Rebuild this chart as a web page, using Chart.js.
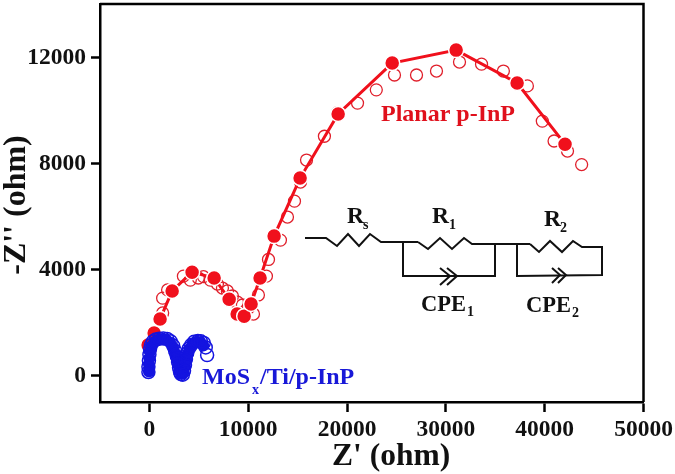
<!DOCTYPE html>
<html>
<head>
<meta charset="utf-8">
<style>
  html, body { margin: 0; padding: 0; background: #fff; overflow: hidden; }
  /* the layout keeps 9px above the plot, the frame starts at 4px in the figure */
  #myChart { display: block; margin-top: -5px; }
</style>
<script src="https://cdn.jsdelivr.net/npm/chart.js@4"></script>
</head>
<body>
<canvas id="myChart" width="675" height="479"></canvas>
<script>
const xTicks = [0, 10000, 20000, 30000, 40000, 50000];
const yTicks = [0, 4000, 8000, 12000];

const planarFitX = [-130, 480, 1080, 2300, 4320, 6550, 8070, 8880, 9590, 10290, 11200, 12620, 15250, 19100, 24570, 31040, 37210, 42060];
const planarFitY = [1150, 1600, 2130, 3190, 3900, 3680, 2880, 2320, 2240, 2700, 3680, 5260, 7450, 9870, 11790, 12280, 11040, 8730];

const planarOpenX = [100, 700, 1340, 1340, 1840, 3440, 4140, 4950, 5470, 6170, 6880, 7390, 7890, 8400, 8910, 9410, 10020, 10530, 11030, 11840, 12050, 13260, 13970, 14680, 15290, 15900, 17710, 19040, 21060, 22960, 24800, 27030, 29050, 31380, 33610, 35820, 38250, 39760, 40950, 42310, 43740];
const planarOpenY = [1030, 1380, 2360, 2920, 3230, 3750, 3600, 3680, 3730, 3600, 3450, 3300, 3190, 3000, 2770, 2660, 2550, 2320, 3040, 3750, 4380, 5110, 5980, 6580, 7300, 8130, 9030, 9920, 10280, 10780, 11340, 11340, 11490, 11830, 11750, 11490, 10930, 9600, 8850, 8470, 7960];

const mosOpenX = [-100, -100, -50, 0, 60, 160, 350, 650, 1000, 1400, 1800, 2150, 2400, 2600, 2780, 2900, 3000, 3100, 3200, 3380, 3500, 3600, 3700, 3820, 4000, 4220, 4520, 4900, 5200, 5500, 5700, 5840];
const mosOpenY = [130, 330, 560, 790, 1000, 1150, 1280, 1360, 1390, 1400, 1380, 1290, 1130, 930, 720, 510, 290, 130, 50, 30, 180, 400, 620, 840, 1020, 1150, 1270, 1300, 1290, 1230, 1060, 770];

const mosFitX = [-50, -30, 0, 60, 200, 500, 900, 1300, 1700, 2100, 2400, 2600, 2780, 2900, 3050, 3250, 3450, 3600, 3720, 3850, 4050, 4350, 4750, 5150, 5450];
const mosFitY = [150, 400, 650, 900, 1100, 1260, 1350, 1380, 1350, 1250, 1050, 830, 600, 400, 180, 60, 130, 350, 580, 800, 1000, 1180, 1270, 1260, 1130];

function toPoints(xs, ys) {
    return xs.map((x, i) => ({ x: x, y: ys[i] }));
}

const serif = '"Liberation Serif", "Times New Roman", serif';

// top and right side of the frame
const frame = {
    id: 'frame',
    beforeDatasetsDraw(chart) {
        const a = chart.chartArea;
        const ctx = chart.ctx;
        ctx.save();
        ctx.strokeStyle = '#000';
        ctx.lineWidth = 2.5;
        ctx.beginPath();
        ctx.moveTo(a.left, a.top);
        ctx.lineTo(a.right, a.top);
        ctx.lineTo(a.right, a.bottom);
        ctx.stroke();
        ctx.restore();
    }
};

// labels and the equivalent circuit, all drawn on top of the plot
const overlay = {
    id: 'overlay',
    afterDraw(chart) {
        const ctx = chart.ctx;
        ctx.save();
        ctx.translate(0, 5); // canvas sits 5px higher, see the css
        ctx.textBaseline = 'alphabetic';
        ctx.textAlign = 'left';

        ctx.fillStyle = '#111';
        ctx.font = 'bold 31.5px ' + serif;
        ctx.fillText("Z' (ohm)", 332, 465);

        ctx.save();
        ctx.translate(25, 205);
        ctx.rotate(-Math.PI / 2);
        ctx.textAlign = 'center';
        ctx.font = 'bold 32px ' + serif;
        ctx.fillText("-Z'' (ohm)", 0, 0);
        ctx.restore();

        ctx.fillStyle = '#e0101c';
        ctx.font = 'bold 24px ' + serif;
        ctx.fillText('Planar p-InP', 381, 121);

        ctx.fillStyle = '#1818d8';
        ctx.font = 'bold 24px ' + serif;
        ctx.fillText('MoS', 202, 384);
        ctx.fillText('/Ti/p-InP', 260, 384);
        ctx.font = 'bold 14px ' + serif;
        ctx.fillText('x', 252, 394);

        ctx.strokeStyle = '#111';
        ctx.lineWidth = 2;
        ctx.lineJoin = 'miter';
        const path = (pts) => {
            ctx.beginPath();
            pts.forEach((p, i) => i ? ctx.lineTo(p[0], p[1]) : ctx.moveTo(p[0], p[1]));
            ctx.stroke();
        };
        // Rs
        path([[305, 238], [326, 238], [337, 246], [348, 234], [359, 246], [370, 234], [381, 242], [418, 242]]);
        // R1
        path([[418, 242], [428, 249], [440, 238], [452, 249], [464, 238], [472, 244], [530, 244]]);
        // R2 and its box
        path([[530, 244], [539, 252], [550, 241], [562, 252], [573, 241], [582, 247], [602, 247], [602, 275], [517, 276], [517, 244]]);
        // CPE1 box
        path([[403, 242], [403, 276], [495, 276], [495, 244]]);
        // CPE arrows
        path([[440, 268], [450, 276], [440, 285]]);
        path([[447, 268], [457, 276], [447, 285]]);
        path([[552, 268], [560, 275], [552, 283]]);
        path([[558, 268], [566, 275], [558, 283]]);

        ctx.fillStyle = '#111';
        ctx.font = 'bold 23.5px ' + serif;
        ctx.fillText('R', 347, 223);
        ctx.fillText('R', 432, 223);
        ctx.fillText('R', 544, 226);
        ctx.font = 'bold 22.5px ' + serif;
        ctx.fillText('CPE', 421, 311);
        ctx.fillText('CPE', 526, 312);
        ctx.font = 'bold 14px ' + serif;
        ctx.fillText('s', 363, 229);
        ctx.fillText('1', 449, 229);
        ctx.fillText('2', 560, 232);
        ctx.fillText('1', 467, 316);
        ctx.fillText('2', 572, 317);
        ctx.restore();
    }
};

const data = {
    datasets: [
        {
            label: 'Planar p-InP fit',
            data: toPoints(planarFitX, planarFitY),
            showLine: true,
            borderColor: '#f0101c',
            backgroundColor: '#f0101c',
            borderWidth: 3,
            pointRadius: 7.5,
            pointBorderColor: '#fff',
            pointBorderWidth: 1.5,
            order: 2
        },
        {
            label: 'Planar p-InP',
            data: toPoints(planarOpenX, planarOpenY),
            showLine: false,
            borderColor: '#e0202c',
            backgroundColor: 'rgba(0,0,0,0)',
            pointRadius: 6,
            pointBorderWidth: 1.3,
            order: 3
        },
        {
            label: 'MoSx fit',
            data: toPoints(mosFitX, mosFitY),
            showLine: true,
            borderColor: '#1414e0',
            backgroundColor: '#1414e0',
            borderWidth: 3,
            pointRadius: 6,
            pointBorderWidth: 0,
            order: 1
        },
        {
            label: 'MoSx',
            data: toPoints(mosOpenX, mosOpenY),
            showLine: false,
            borderColor: '#1414e0',
            backgroundColor: 'rgba(0,0,0,0)',
            pointRadius: 6.5,
            pointBorderWidth: 1.5,
            order: 0
        }
    ]
};

const config = {
    type: 'scatter',
    data: data,
    plugins: [frame, overlay],
    options: {
        responsive: false,
        animation: false,
        layout: { padding: { top: 4, right: 31.5, bottom: 0, left: 0 } },
        plugins: { legend: { display: false }, tooltip: { enabled: false } },
        scales: {
            x: {
                type: 'linear',
                min: -5000,
                max: 50000,
                afterBuildTicks(axis) { axis.ticks = xTicks.map(v => ({ value: v })); },
                afterFit(axis) { axis.height = 72; axis.paddingLeft = 0; axis.paddingRight = 0; },
                grid: { drawOnChartArea: false, drawTicks: true, tickLength: 10, tickColor: '#000', tickWidth: 2.5 },
                border: { display: true, color: '#000', width: 2.5 },
                ticks: { color: '#111', maxRotation: 0, padding: 4, font: { family: serif, weight: 'bold', size: 23.5 }, callback: v => String(v) }
            },
            y: {
                type: 'linear',
                min: -1000,
                max: 14020,
                afterBuildTicks(axis) { axis.ticks = yTicks.map(v => ({ value: v })); },
                afterFit(axis) { axis.width = 100; axis.paddingTop = 0; axis.paddingBottom = 0; },
                grid: { drawOnChartArea: false, drawTicks: true, tickLength: 9, tickColor: '#000', tickWidth: 2.5 },
                border: { display: true, color: '#000', width: 2.5 },
                ticks: { color: '#111', padding: 5, font: { family: serif, weight: 'bold', size: 23.5 }, callback: v => String(v) }
            }
        }
    }
};

const myChart = new Chart(document.querySelector('#myChart'), config);
</script>
</body>
</html>
